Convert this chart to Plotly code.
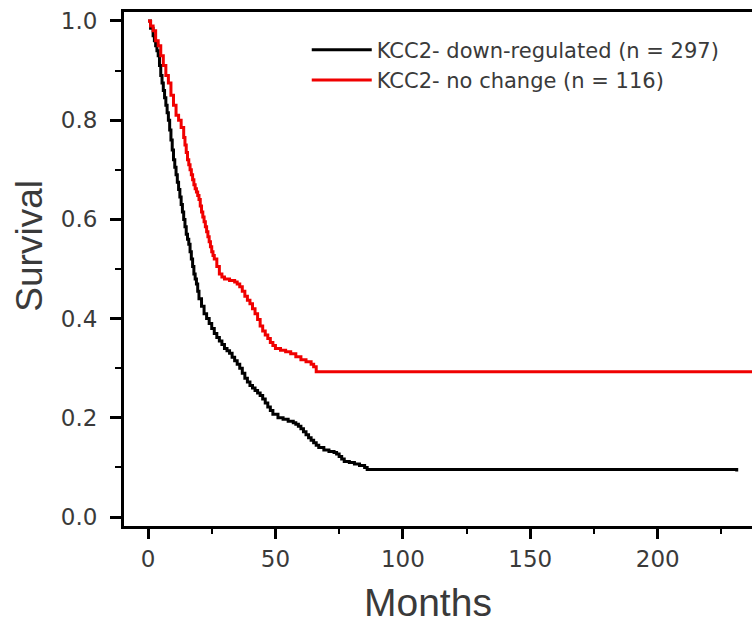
import plotly.graph_objects as go

# Kaplan-Meier style survival data
down_months = [0, 1, 2, 2.5, 3, 3.5, 4, 4.5, 5, 5.5, 6, 6.5, 7, 7.5, 8, 8.5, 9, 9.5, 10,
               10.5, 11, 11.5, 12, 12.5, 13, 13.5, 14, 14.5, 15, 15.5, 16, 16.5, 17,
               17.5, 18, 18.5, 19, 19.5, 20, 21, 22, 23, 24, 25, 26, 27, 28, 29, 30,
               31, 32, 33, 34, 35, 36, 37, 38, 39, 40, 41, 42, 43, 44, 45, 46, 47, 48,
               49, 51, 53, 55, 57, 58, 59, 60, 61, 62, 63, 64, 65, 66, 67, 69, 71, 73,
               74, 75, 76, 77, 79, 81, 83, 85, 86, 231]
down_surv = [1.0, 0.985, 0.97, 0.96, 0.95, 0.94, 0.93, 0.91, 0.89, 0.875, 0.86, 0.845,
             0.83, 0.815, 0.80, 0.78, 0.76, 0.74, 0.72, 0.705, 0.69, 0.675, 0.66, 0.645,
             0.63, 0.615, 0.60, 0.585, 0.57, 0.56, 0.55, 0.535, 0.52, 0.505, 0.49,
             0.48, 0.47, 0.455, 0.44, 0.425, 0.41, 0.40, 0.39, 0.38, 0.37, 0.362,
             0.355, 0.348, 0.34, 0.335, 0.33, 0.322, 0.315, 0.308, 0.30, 0.29, 0.28,
             0.272, 0.265, 0.26, 0.255, 0.25, 0.245, 0.238, 0.23, 0.222, 0.215, 0.207,
             0.20, 0.197, 0.193, 0.19, 0.187, 0.183, 0.178, 0.172, 0.166, 0.16, 0.155,
             0.15, 0.145, 0.14, 0.135, 0.132, 0.13, 0.127, 0.122, 0.117, 0.112, 0.11,
             0.107, 0.104, 0.10, 0.096, 0.092, 0.092]

nochange_months = [0, 1, 2, 3, 4, 5, 6, 7, 8, 9, 10, 11, 12, 13, 14, 14.5, 15, 15.5, 16,
                   16.5, 17, 17.5, 18, 18.5, 19, 19.5, 20, 20.5, 21, 21.5, 22, 22.5, 23,
                   23.5, 24, 24.5, 25, 25.5, 26, 27, 28, 29, 30, 32, 34, 35, 36, 37, 38,
                   39, 40, 41, 42, 43, 44, 45, 46, 47, 48, 49, 50, 52, 54, 56, 58, 60,
                   62, 64, 65, 66, 245]
nochange_surv = [1.0, 0.99, 0.98, 0.96, 0.95, 0.93, 0.91, 0.89, 0.875, 0.85, 0.83, 0.81,
                 0.80, 0.785, 0.765, 0.75, 0.735, 0.72, 0.71, 0.70, 0.69, 0.68, 0.67,
                 0.662, 0.655, 0.648, 0.64, 0.627, 0.615, 0.605, 0.595, 0.585, 0.575,
                 0.565, 0.555, 0.545, 0.535, 0.527, 0.52, 0.505, 0.49, 0.484, 0.48,
                 0.477, 0.474, 0.47, 0.464, 0.455, 0.445, 0.437, 0.43, 0.42, 0.41, 0.398,
                 0.385, 0.375, 0.367, 0.36, 0.352, 0.346, 0.34, 0.336, 0.333, 0.329,
                 0.323, 0.317, 0.313, 0.308, 0.303, 0.293, 0.293]

series_names = ["KCC2- down-regulated (n = 297)", "KCC2- no change (n = 116)"]
x_ticks = [0, 50, 100, 150, 200]
y_ticks = [0.0, 0.2, 0.4, 0.6, 0.8, 1.0]
y_tick_labels = ["0.0", "0.2", "0.4", "0.6", "0.8", "1.0"]

fig = go.Figure()
fig.add_trace(go.Scatter(x=down_months, y=down_surv, mode="lines", name=series_names[0],
                         line=dict(color="#000000", width=3, shape="hv")))
fig.add_trace(go.Scatter(x=nochange_months, y=nochange_surv, mode="lines", name=series_names[1],
                         line=dict(color="#f00000", width=3, shape="hv")))

tickfont = dict(family="DejaVu Sans", size=23, color="#3a3a3a")

fig.update_layout(
    width=752, height=624,
    margin=dict(l=124, r=0, t=12, b=98, autoexpand=False),
    paper_bgcolor="white", plot_bgcolor="white",
    showlegend=True,
    legend=dict(x=0.291, y=0.966, xanchor="left", yanchor="top",
                font=dict(family="DejaVu Sans", size=21, color="#3a3a3a"),
                bgcolor="rgba(0,0,0,0)", itemwidth=60, tracegroupgap=0),
    xaxis=dict(range=[-9.42, 237.0], tickvals=x_ticks, ticks="outside", ticklen=10,
               tickwidth=3, tickcolor="black", showline=True, linewidth=3,
               linecolor="black", mirror=True, showgrid=False, zeroline=False,
               automargin=False, tickfont=tickfont,
               minor=dict(dtick=25, ticks="outside", ticklen=5, tickwidth=2,
                          tickcolor="black", showgrid=False)),
    yaxis=dict(range=[-0.018, 1.018], tickvals=y_ticks, ticktext=y_tick_labels,
               ticks="outside", ticklen=11, tickwidth=3, tickcolor="black",
               showline=True, linewidth=3, linecolor="black", mirror=False,
               showgrid=False, zeroline=False, automargin=False, tickfont=tickfont,
               ticklabelstandoff=8,
               minor=dict(dtick=0.1, ticks="outside", ticklen=6, tickwidth=2,
                          tickcolor="black", showgrid=False)),
    annotations=[
        dict(text="Months", xref="paper", yref="paper", x=0.484, y=-0.148,
             xanchor="center", yanchor="middle", showarrow=False,
             font=dict(family="Liberation Sans", size=39, color="#3a3a3a")),
        dict(text="Survival", xref="paper", yref="paper", x=-0.150, y=0.545,
             xanchor="center", yanchor="middle", showarrow=False, textangle=-90,
             font=dict(family="Liberation Sans", size=37, color="#3a3a3a")),
    ],
)

fig.write_html("out.html",
               config={"displayModeBar": False},
               post_script="document.body.style.margin='0';document.body.style.overflow='hidden';")
